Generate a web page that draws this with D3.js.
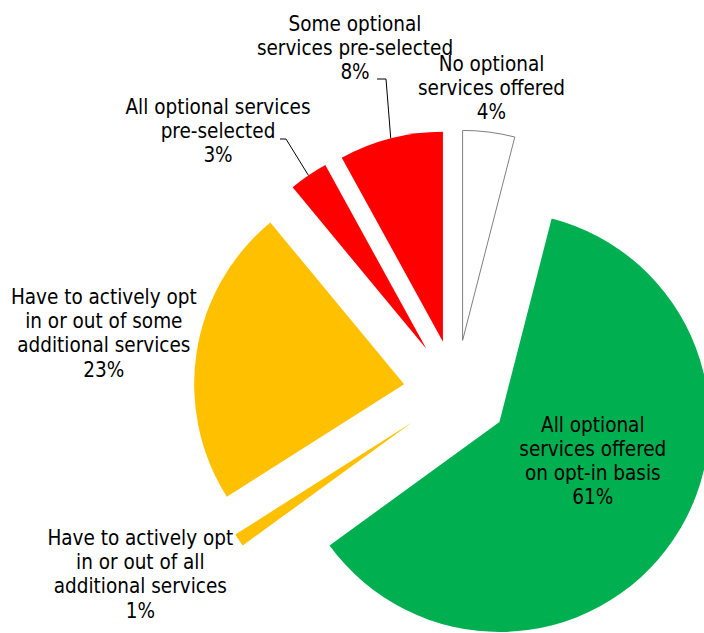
<!DOCTYPE html>
<html>
<head>
<meta charset="utf-8">
<script src="https://cdn.jsdelivr.net/npm/d3@7"></script>
<style>
  html, body { margin: 0; padding: 0; background: #ffffff; }
  svg { display: block; }
  .lbl { font-family: "DejaVu Sans Condensed", "DejaVu Sans", sans-serif; font-stretch: condensed; font-size: 20.5px; fill: #000000; }
</style>
</head>
<body>
<svg id="chart" width="704" height="633"></svg>
<script>
// Survey shares (percent), in clockwise order starting at 12 o'clock
const categories = [
  "No optional services offered",
  "All optional services offered on opt-in basis",
  "Have to actively opt in or out of all additional services",
  "Have to actively opt in or out of some additional services",
  "All optional services pre-selected",
  "Some optional services pre-selected"
];
const shares = [4, 61, 1, 23, 3, 8];

// Label text broken into lines (the percentage is appended as the last line)
const labelLines = [
  ["No optional", "services offered"],
  ["All optional", "services offered", "on opt-in basis"],
  ["Have to actively opt", "in or out of all", "additional services"],
  ["Have to actively opt", "in or out of some", "additional services"],
  ["All optional services", "pre-selected"],
  ["Some optional", "services pre-selected"]
];

const fills   = ["#FFFFFF", "#00B050", "#FFC000", "#FFC000", "#FF0000", "#FF0000"];
const strokes = ["#808080", "none", "none", "none", "none", "none"];

// Geometry of the exploded pie
const cx = 456, cy = 392.5;
const radius = 210;
const explode = 0.25 * radius;

// Label block anchors (centre of first line's baseline), relative to the pie centre
const labelOffsets = [
  [35.5, -321.5],
  [136.8, 39.2],
  [-315.7, 152.5],
  [-352.2, -88.5],
  [-238, -278.5],
  [-101, -362]
];
// Leader line start (relative to the label anchor) and horizontal stub length; null = no leader
const leaders = [null, null, null, null, [62, 25, 6], [22, 48.5, 9]];
const lineHeight = 24.2;

const svg = d3.select("#chart");
const g = svg.append("g").attr("transform", `translate(${cx},${cy})`);

const pie = d3.pie().sort(null).value(d => d).startAngle(0).endAngle(2 * Math.PI);
const arcs = pie(shares);
const arc = d3.arc().innerRadius(0).outerRadius(radius);

// Offset of each slice along its mid-angle
function shift(a) {
  const m = (a.startAngle + a.endAngle) / 2;
  return [explode * Math.sin(m), -explode * Math.cos(m)];
}

g.selectAll("path.slice")
  .data(arcs)
  .join("path")
  .attr("class", "slice")
  .attr("transform", a => { const [dx, dy] = shift(a); return `translate(${dx},${dy})`; })
  .attr("d", arc)
  .attr("fill", (a, i) => fills[i])
  .attr("stroke", (a, i) => strokes[i])
  .attr("stroke-width", 1);

// Leader lines from label to the outer edge of the slice
arcs.forEach((a, i) => {
  const L = leaders[i];
  if (!L) return;
  const [dx, dy] = shift(a);
  const m = (a.startAngle + a.endAngle) / 2;
  const ex = dx + radius * Math.sin(m);
  const ey = dy - radius * Math.cos(m);
  const sx = labelOffsets[i][0] + L[0];
  const sy = labelOffsets[i][1] + L[1];
  g.append("polyline")
    .attr("points", `${sx},${sy} ${sx + L[2]},${sy} ${ex},${ey}`)
    .attr("fill", "none")
    .attr("stroke", "#000000")
    .attr("stroke-width", 1);
});

// Data labels
arcs.forEach((a, i) => {
  const lines = labelLines[i].concat([shares[i] + "%"]);
  const t = g.append("text")
    .attr("class", "lbl")
    .attr("text-anchor", "middle")
    .attr("x", labelOffsets[i][0])
    .attr("y", labelOffsets[i][1]);
  lines.forEach((s, k) => {
    t.append("tspan")
      .attr("x", labelOffsets[i][0])
      .attr("y", labelOffsets[i][1] + k * lineHeight)
      .text(s);
  });
});
</script>
</body>
</html>
